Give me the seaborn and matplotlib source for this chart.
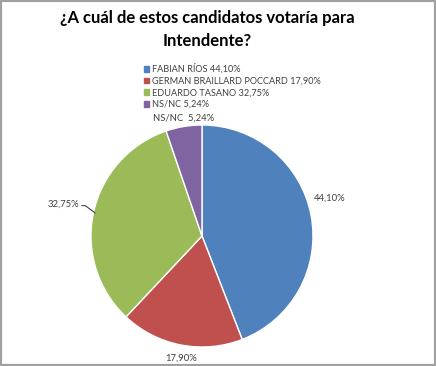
import numpy as np
import pandas as pd
import matplotlib
matplotlib.use("Agg")
import matplotlib.pyplot as plt
import seaborn as sns

categories = ["FABIAN RÍOS", "GERMAN BRAILLARD POCCARD", "EDUARDO TASANO", "NS/NC"]
values = [44.10, 17.90, 32.75, 5.24]
value_labels = ["44,10%", "17,90%", "32,75%", "NS/NC  5,24%"]
legend_labels = ["FABIAN RÍOS 44,10%", "GERMAN BRAILLARD POCCARD 17,90%",
                 "EDUARDO TASANO 32,75%", "NS/NC 5,24%"]
colors = ["#4F81BD", "#C0504D", "#9BBB59", "#8064A2"]

sns.set_theme(style="white")
plt.rcParams['font.family'] = ['Lato', 'DejaVu Sans']

df = pd.DataFrame({"cat": categories, "val": values})

fig = plt.figure(figsize=(4.36, 3.66), dpi=100)
W, H = 436, 366
cx, cy, r = 202, 236, 111
ax = fig.add_axes([(cx - r) / W, (H - cy - r) / H, 2 * r / W, 2 * r / H])
wedges, _ = ax.pie(df["val"], colors=colors, startangle=90, counterclock=False,
                   wedgeprops=dict(edgecolor="white", linewidth=1))
ax.set_xlim(-1, 1)
ax.set_ylim(-1, 1)
ax.set_aspect("equal")
ax.axis("off")

dists = [1.2, 1.12, 1.25, 1.08]
offsets = [(-0.03, 0.12), (0.03, 0), (-0.03, 0.02), (0.01, 0)]
for w, lab, d, off in zip(wedges, value_labels, dists, offsets):
    ang = np.deg2rad((w.theta1 + w.theta2) / 2)
    x, y = d * np.cos(ang) + off[0], d * np.sin(ang) + off[1]
    ax.text(x, y, lab, ha="center", va="center", fontsize=6.8, color="#404040", clip_on=False)
    if lab == "32,75%":
        ex, ey = 0.985 * np.cos(ang), 0.985 * np.sin(ang)
        ax.plot([x + 0.17, x + 0.2, ex], [y - 0.01, y - 0.01, ey], color="#404040",
                lw=0.8, clip_on=False)

# Legend
handles = [plt.Rectangle((0, 0), 1, 1, color=c) for c in colors]
fig.legend(handles, legend_labels, loc="upper left", bbox_to_anchor=(139 / W, 1 - 59 / H),
           frameon=False, fontsize=6.6, handlelength=0.6, handleheight=0.6,
           handletextpad=0.3, labelspacing=0.3, borderpad=0, labelcolor="#404040")

fig.text(207 / W, 1 - 18 / H, "¿A cuál de estos candidatos votaría para", ha="center",
         va="center", fontsize=12, fontweight="bold", color="#000000")
fig.text(207 / W, 1 - 41 / H, "Intendente?", ha="center", va="center",
         fontsize=12, fontweight="bold", color="#000000")

fig.patches.append(plt.Rectangle((0, 0), 1, 1, transform=fig.transFigure, fill=False,
                                 edgecolor="#A0A0A0", linewidth=3))
fig.savefig("out.png", dpi=100)
